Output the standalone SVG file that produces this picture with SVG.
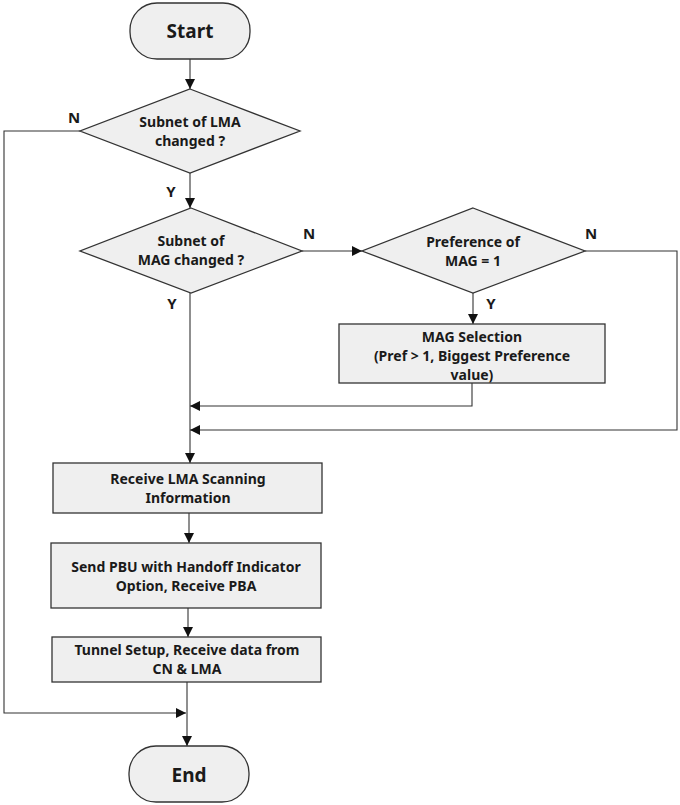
<svg xmlns="http://www.w3.org/2000/svg" width="680" height="805" viewBox="0 0 680 805">
<defs>
<style>
.shape{fill:#efefef;stroke:#333;stroke-width:1.3}
.t{font-family:"Noto Sans","Liberation Sans",sans-serif;font-weight:bold;font-size:14px;fill:#1a1a1a;text-anchor:middle}
.big{font-size:19px}
.lbl{font-family:"Noto Sans","Liberation Sans",sans-serif;font-weight:bold;font-size:15px;fill:#1a1a1a;text-anchor:middle}
.c{fill:none;stroke:#333;stroke-width:1.1}
</style>
<marker id="ah" viewBox="0 0 10 10" refX="10" refY="5" markerWidth="10" markerHeight="10" markerUnits="userSpaceOnUse" orient="auto">
<path d="M0,0 L10,5 L0,10 z" fill="#111"/>
</marker>
</defs>
<rect width="680" height="805" fill="#fff"/>
<g id="connectors">
<line class="c" x1="190" y1="59" x2="190" y2="89" marker-end="url(#ah)"/>
<line class="c" x1="190" y1="173" x2="190" y2="208" marker-end="url(#ah)"/>
<polyline class="c" points="80,131 4,131 4,713 186,713" marker-end="url(#ah)"/>
<line class="c" x1="302" y1="251" x2="362" y2="251" marker-end="url(#ah)"/>
<line class="c" x1="473" y1="293" x2="473" y2="324" marker-end="url(#ah)"/>
<polyline class="c" points="472,383 472,406 190,406" marker-end="url(#ah)"/>
<polyline class="c" points="585,251 677,251 677,430 190,430" marker-end="url(#ah)"/>
<line class="c" x1="190" y1="293" x2="190" y2="463" marker-end="url(#ah)"/>
<line class="c" x1="189" y1="513" x2="189" y2="543" marker-end="url(#ah)"/>
<line class="c" x1="188" y1="608" x2="188" y2="637" marker-end="url(#ah)"/>
<line class="c" x1="187" y1="682" x2="187" y2="746" marker-end="url(#ah)"/>
<text class="lbl" x="74" y="123">N</text>
<text class="lbl" x="171" y="197">Y</text>
<text class="lbl" x="309" y="239">N</text>
<text class="lbl" x="172" y="309">Y</text>
<text class="lbl" x="591" y="239">N</text>
<text class="lbl" x="491" y="309">Y</text>
</g>
<g id="start">
<rect class="shape" x="130" y="3" width="120" height="56" rx="27" ry="27"/>
<text class="t big" x="190" y="38">Start</text>
</g>
<g id="lma-changed">
<polygon class="shape" points="190,89 300,131 190,173 80,131"/>
<text class="t" x="190" y="127">Subnet of LMA</text>
<text class="t" x="190" y="146">changed ?</text>
</g>
<g id="mag-changed">
<polygon class="shape" points="191,208 302,251 191,293 80,251"/>
<text class="t" x="191" y="246">Subnet of</text>
<text class="t" x="191" y="265">MAG changed ?</text>
</g>
<g id="preference">
<polygon class="shape" points="473,208 585,251 473,293 362,251"/>
<text class="t" x="473" y="247">Preference of</text>
<text class="t" x="473" y="266">MAG = 1</text>
</g>
<g id="mag-selection">
<rect class="shape" x="339" y="324" width="266" height="59"/>
<text class="t" x="472" y="342">MAG Selection</text>
<text class="t" x="472" y="361">(Pref &gt; 1, Biggest Preference</text>
<text class="t" x="472" y="380">value)</text>
</g>
<g id="receive-lma">
<rect class="shape" x="53" y="463" width="269" height="50"/>
<text class="t" x="188" y="484">Receive LMA Scanning</text>
<text class="t" x="188" y="503">Information</text>
</g>
<g id="send-pbu">
<rect class="shape" x="51" y="543" width="270" height="65"/>
<text class="t" x="186" y="572">Send PBU with Handoff Indicator</text>
<text class="t" x="186" y="591">Option, Receive PBA</text>
</g>
<g id="tunnel">
<rect class="shape" x="52" y="637" width="269" height="45"/>
<text class="t" x="187" y="655">Tunnel Setup, Receive data from</text>
<text class="t" x="187" y="674">CN &amp; LMA</text>
</g>
<g id="end">
<rect class="shape" x="129" y="746" width="120" height="56" rx="27" ry="27"/>
<text class="t big" x="189" y="782">End</text>
</g>
</svg>
